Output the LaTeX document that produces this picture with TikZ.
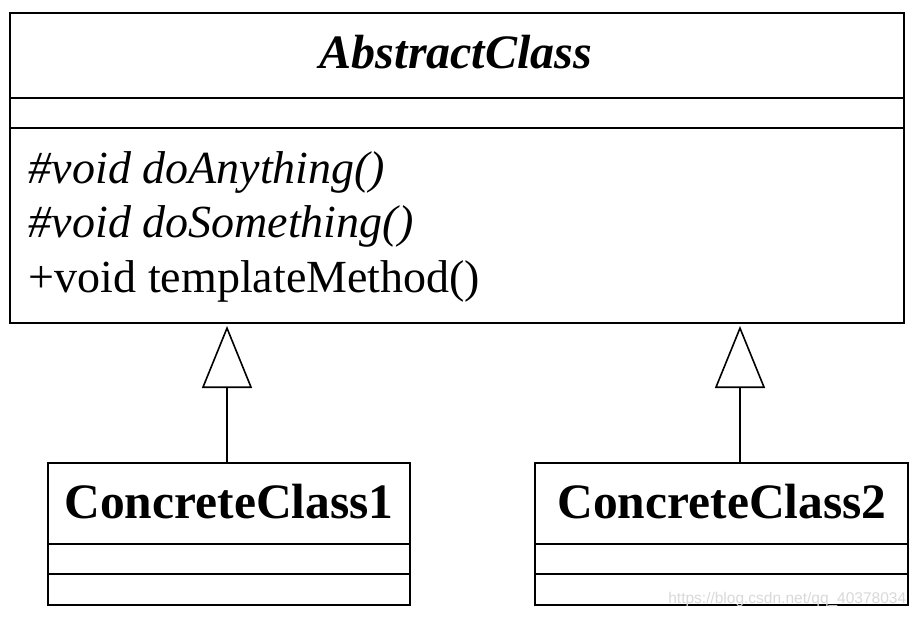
\documentclass[tikz,border=0pt]{standalone}
\usepackage{fontspec}
\setmainfont{Liberation Serif}
\newfontfamily\wmfont{Liberation Sans}
\usetikzlibrary{arrows.meta}
\begin{document}
\begin{tikzpicture}[x=1pt,y=-1pt, line width=1.6pt,
  umlbox/.style={draw, rectangle, inner sep=0pt, anchor=north west},
  titlefont/.style={font=\fontsize{49.5}{58}\selectfont\bfseries, anchor=base},
  methfont/.style={font=\fontsize{46}{54}\selectfont, anchor=base west, inner sep=0pt},
  inherit/.style={-{Triangle[open, length=62pt, width=50pt, line width=1.6pt]}},
]
\useasboundingbox[fill=white] (0,0) rectangle (918,618);
% Abstract class
\node[umlbox, minimum width=894pt, minimum height=310pt] (abs) at (9,12) {};
\node[titlefont, font=\fontsize{48}{56}\selectfont\bfseries\itshape] (absname) at (456,68) {AbstractClass};
\draw (abs.west |- 0,98) -- (abs.east |- 0,98);
\draw (abs.west |- 0,128) -- (abs.east |- 0,128);
\node[methfont, font=\fontsize{46}{54}\selectfont\itshape] (m1) at (28,183) {\#void doAnything()};
\node[methfont, font=\fontsize{46}{54}\selectfont\itshape] (m2) at (28,237) {\#void doSomething()};
\node[methfont] (m3) at (28,292) {+void templateMethod()};
% Concrete class 1
\node[umlbox, minimum width=362pt, minimum height=142pt] (c1) at (47,462) {};
\node[titlefont] (c1name) at (229,518) {ConcreteClass1};
\draw (c1.west |- 0,544) -- (c1.east |- 0,544);
\draw (c1.west |- 0,574) -- (c1.east |- 0,574);
% Concrete class 2
\node[umlbox, minimum width=373pt, minimum height=142pt] (c2) at (534,462) {};
\node[titlefont] (c2name) at (722,518) {ConcreteClass2};
\draw (c2.west |- 0,544) -- (c2.east |- 0,544);
\draw (c2.west |- 0,574) -- (c2.east |- 0,574);
% Generalisations
\coordinate (t1) at (227,326);
\coordinate (t2) at (740,326);
\draw[inherit] (t1 |- c1.north) -- (t1);
\draw[inherit] (t2 |- c2.north) -- (t2);
% watermark
\node[font=\wmfont\fontsize{15.5}{18}\selectfont, text=gray!30, anchor=base east, inner sep=0pt] (wm) at (907,603) {https://blog.csdn.net/qq\_40378034};
\end{tikzpicture}
\end{document}
